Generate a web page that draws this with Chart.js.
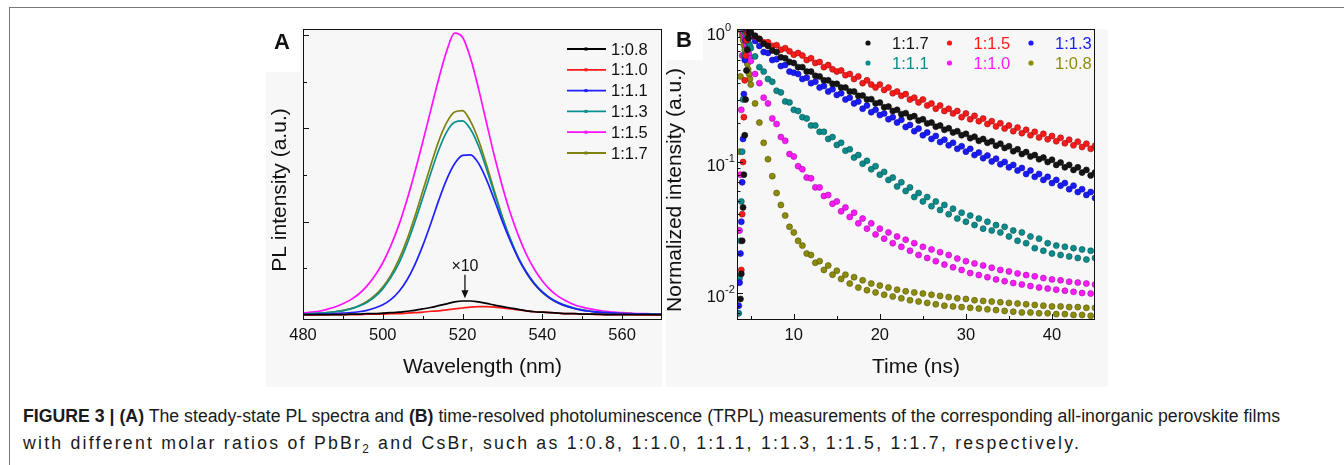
<!DOCTYPE html>
<html>
<head>
<meta charset="utf-8">
<script src="https://cdn.jsdelivr.net/npm/chart.js"></script>
<style>
    body { margin: 0; width: 1344px; height: 465px; overflow: hidden; position: relative; background: #fff; font-family: "Liberation Sans", Arial, sans-serif; }
    .rule { position: absolute; background: #777; }
    .bg { position: absolute; background: #f7f7f7; }
    canvas { position: absolute; top: 0; }
    #caption { position: absolute; left: 23px; top: 403px; font-size: 18px; line-height: 27px; color: #1a1a1a; white-space: nowrap; transform-origin: 0 0; }
    #caption span { display: inline-block; }
    #caption sub { font-size: 12px; vertical-align: 0; position: relative; top: 4px; }
</style>
</head>
<body>
<div class="rule" style="left:9px;top:7px;right:0;height:1px"></div>
<div class="rule" style="left:9px;top:7px;width:1px;bottom:0"></div>

<div class="bg" style="left:300px;top:29px;width:362px;height:358px"></div>
<div class="bg" style="left:266px;top:72px;width:34px;height:315px"></div>
<div class="bg" style="left:703px;top:29px;width:405px;height:358px"></div>
<div class="bg" style="left:666px;top:60px;width:37px;height:327px"></div>

<canvas id="plA" width="402" height="392" style="left:262px"></canvas>
<canvas id="trB" width="444" height="392" style="left:664px"></canvas>

<div id="caption">
    <span id="cap1"><b>FIGURE 3 | (A)</b> The steady-state PL spectra and <b>(B)</b> time-resolved photoluminescence (TRPL) measurements of the corresponding all-inorganic perovskite films</span><br>
    <span id="cap2">with different molar ratios of PbBr<sub>2</sub> and CsBr, such as 1:0.8, 1:1.0, 1:1.1, 1:1.3, 1:1.5, 1:1.7, respectively.</span>
</div>

<script>
    // ---- Panel A: steady-state PL spectra ----
    const wavelength = [480,482,484,486,488,490,492,494,496,498,
                        500,502,504,506,508,510,512,514,516,518,
                        520,522,524,526,528,530,532,534,536,538,
                        540,542,544,546,548,550,552,554,556,558,
                        560,562,564,566,568,570];

    const pl_0_8 = [0.01,0.01,0.01,0.01,0.01,0.01,0.02,0.02,0.03,0.03,
                    0.04,0.05,0.06,0.08,0.10,0.13,0.16,0.20,0.24,0.28,
                    0.30,0.30,0.28,0.25,0.21,0.18,0.15,0.12,0.09,0.07,
                    0.06,0.05,0.04,0.03,0.03,0.02,0.02,0.02,0.01,0.01,
                    0.01,0.01,0.01,0.01,0.01,0.01];
    const pl_1_0 = [0.00,0.00,0.00,0.00,0.01,0.01,0.01,0.01,0.02,0.02,
                    0.02,0.03,0.03,0.04,0.05,0.06,0.08,0.09,0.11,0.13,
                    0.15,0.17,0.18,0.18,0.17,0.15,0.13,0.11,0.09,0.07,
                    0.06,0.05,0.04,0.03,0.03,0.02,0.02,0.01,0.01,0.01,
                    0.01,0.01,0.00,0.00,0.00,0.00];
    const pl_1_1 = [0.01,0.01,0.02,0.02,0.03,0.04,0.05,0.07,0.10,0.15,
                    0.22,0.33,0.50,0.74,1.07,1.48,1.95,2.45,2.90,3.24,
                    3.42,3.43,3.25,2.90,2.46,2.00,1.58,1.21,0.91,0.67,
                    0.49,0.36,0.26,0.19,0.14,0.10,0.08,0.06,0.05,0.04,
                    0.03,0.02,0.02,0.02,0.01,0.01];
    const pl_1_3 = [0.02,0.03,0.04,0.05,0.07,0.09,0.13,0.19,0.27,0.39,
                    0.56,0.80,1.10,1.50,1.98,2.50,3.03,3.53,3.92,4.13,
                    4.16,3.98,3.62,3.13,2.60,2.08,1.62,1.23,0.92,0.68,
                    0.50,0.36,0.27,0.20,0.15,0.11,0.08,0.06,0.05,0.04,
                    0.03,0.03,0.02,0.02,0.02,0.01];
    const pl_1_5 = [0.04,0.06,0.08,0.12,0.17,0.24,0.33,0.45,0.62,0.84,
                    1.12,1.48,1.92,2.45,3.05,3.70,4.38,5.05,5.65,6.04,
                    5.95,5.50,4.85,4.12,3.40,2.75,2.18,1.70,1.30,0.98,
                    0.73,0.54,0.40,0.30,0.22,0.17,0.13,0.10,0.08,0.06,
                    0.05,0.04,0.03,0.03,0.02,0.02];
    const pl_1_7 = [0.02,0.03,0.04,0.05,0.07,0.10,0.14,0.20,0.29,0.42,
                    0.60,0.85,1.18,1.60,2.10,2.65,3.20,3.72,4.12,4.35,
                    4.38,4.15,3.75,3.22,2.65,2.10,1.62,1.22,0.90,0.66,
                    0.48,0.35,0.26,0.19,0.14,0.11,0.08,0.06,0.05,0.04,
                    0.03,0.03,0.02,0.02,0.02,0.01];

    const plLabels = ['1:0.8', '1:1.0', '1:1.1', '1:1.3', '1:1.5', '1:1.7'];
    const plColors = ['#000000', '#ff1a1a', '#1f1fff', '#089090', '#ff10ff', '#808010'];
    const plSeries = [pl_0_8, pl_1_0, pl_1_1, pl_1_3, pl_1_5, pl_1_7];
    const wlTicks = [480, 500, 520, 540, 560];

    // ---- Panel B: TRPL decays ----
    const time = [3.5,3.6,3.7,3.8,3.9,4.0,4.1,4.2,4.3,4.4,4.5,4.6,4.7,4.8,4.9,5.0,
                  5.5,6.0,6.5,7.0,7.5,8.0,8.5,9.0,9.5,10.0,
                  10.5,11.0,11.5,12.0,12.5,13.0,13.5,14.0,14.5,15.0,
                  15.5,16.0,16.5,17.0,17.5,18.0,18.5,19.0,19.5,20.0,
                  20.5,21.0,21.5,22.0,22.5,23.0,23.5,24.0,24.5,25.0,
                  25.5,26.0,26.5,27.0,27.5,28.0,28.5,29.0,29.5,30.0,
                  30.5,31.0,31.5,32.0,32.5,33.0,33.5,34.0,34.5,35.0,
                  35.5,36.0,36.5,37.0,37.5,38.0,38.5,39.0,39.5,40.0,
                  40.5,41.0,41.5,42.0,42.5,43.0,43.5,44.0,44.5,45.0];

    const tr_1_7 = [null,null,null,0.009,0.014,0.025,0.045,0.08,0.16,0.3,0.5,0.72,0.88,0.97,1.0,0.98,
                    .92,.87,.80,.77,.71,.69,.63,.62,.58,.57,
                    .53,.53,.49,.49,.455,.45,.42,.42,.395,.395,
                    .37,.37,.345,.345,.32,.322,.30,.302,.28,.284,
                    .262,.265,.245,.25,.232,.236,.22,.224,.207,.212,
                    .197,.2,.186,.19,.176,.181,.168,.172,.16,.164,
                    .152,.156,.145,.15,.14,.144,.133,.138,.128,.132,
                    .121,.125,.115,.119,.11,.113,.105,.108,.10,.104,
                    .095,.099,.091,.095,.087,.091,.083,.087,.079,.083];
    const tr_1_5 = [null,null,null,null,0.015,0.04,0.1,0.22,0.42,0.65,0.85,0.96,1.0,0.98,0.96,0.94,
                    .91,.87,.82,.82,.77,.78,.72,.74,.70,.66,
                    .68,.65,.60,.62,.57,.58,.53,.55,.51,.49,
                    .50,.46,.47,.43,.45,.40,.42,.39,.37,.39,
                    .355,.37,.335,.345,.32,.33,.30,.31,.285,.30,
                    .27,.28,.255,.27,.245,.255,.235,.245,.22,.235,
                    .212,.225,.205,.215,.195,.205,.187,.198,.18,.19,
                    .172,.183,.166,.176,.16,.17,.154,.164,.149,.158,
                    .144,.153,.139,.148,.134,.143,.13,.138,.126,.133];
    const tr_1_3 = [null,0.008,0.012,0.02,0.035,0.07,0.15,0.33,0.6,0.85,1.0,0.98,0.96,0.95,0.93,0.91,
                    .84,.77,.69,.68,.60,.61,.54,.55,.49,.48,
                    .47,.43,.44,.40,.41,.37,.38,.345,.36,.325,
                    .335,.30,.31,.28,.29,.255,.27,.24,.25,.228,
                    .235,.212,.22,.2,.21,.185,.192,.172,.18,.16,
                    .168,.15,.158,.142,.148,.134,.14,.126,.132,.12,
                    .126,.113,.118,.107,.112,.101,.106,.096,.1,.091,
                    .095,.086,.09,.081,.086,.077,.081,.073,.077,.069,
                    .073,.066,.069,.062,.066,.059,.062,.056,.059,.053];
    const tr_1_1 = [null,0.007,0.013,0.025,0.05,0.12,0.3,0.65,1.0,0.95,0.9,0.86,0.82,0.79,0.77,0.74,
                    .64,.53,.49,.43,.41,.35,.34,.29,.285,.25,
                    .245,.22,.215,.19,.19,.17,.17,.15,.155,.135,
                    .14,.122,.125,.108,.113,.097,.102,.088,.093,.08,
                    .084,.073,.076,.065,.07,.06,.064,.054,.058,.05,
                    .054,.046,.05,.043,.047,.04,.044,.037,.041,.035,
                    .039,.033,.037,.031,.035,.03,.033,.029,.032,.027,
                    .03,.025,.029,.024,.027,.022,.026,.021,.024,.02,
                    .023,.0195,.0225,.019,.022,.0185,.0215,.018,.021,.0185];
    const tr_1_0 = [0.007,0.012,0.03,0.08,0.25,0.65,1.0,0.94,0.88,0.83,0.78,0.74,0.69,0.66,0.62,0.59,
                    .47,.40,.31,.28,.215,.195,.155,.145,.115,.11,
                    .093,.088,.076,.075,.064,.064,.055,.056,.048,.05,
                    .042,.045,.038,.041,.034,.037,.031,.034,.028,.031,
                    .026,.029,.024,.027,.0225,.0255,.021,.024,.0195,.0225,
                    .0185,.0215,.0175,.0205,.0165,.0195,.0157,.0183,.015,.0175,
                    .0142,.0168,.0137,.0162,.0132,.0156,.0127,.015,.0123,.0146,
                    .0119,.0141,.0116,.0137,.0113,.0134,.011,.013,.0108,.0127,
                    .0106,.0125,.0104,.0122,.0102,.012,.01,.0118,.0099,.0116];
    const tr_0_8 = [0.008,0.03,0.12,0.45,1.0,0.92,0.85,0.78,0.72,0.67,0.62,0.56,0.51,0.47,0.43,0.39,
                    .28,.20,.14,.105,.078,.058,.047,.039,.032,.029,
                    .025,.023,.02,.0195,.017,.0175,.015,.0162,.0138,.0148,
                    .0128,.0138,.0118,.0132,.011,.0125,.0105,.0118,.0101,.0114,
                    .0097,.011,.0094,.0106,.0091,.0103,.0088,.0101,.0086,.0099,
                    .0084,.0097,.0082,.0095,.008,.0093,.0079,.0091,.0078,.009,
                    .0077,.0088,.0076,.0087,.0075,.0086,.0074,.0085,.0073,.0084,
                    .0072,.0083,.0071,.0082,.0071,.0081,.007,.008,.007,.0079,
                    .0069,.0079,.0069,.0078,.0068,.0078,.0068,.0077,.0067,.0077];

    const trLabels = ['1:1.7', '1:1.5', '1:1.3', '1:1.1', '1:1.0', '1:0.8'];
    const trColors = ['#151515', '#ff1a1a', '#1a1aff', '#0a8c8c', '#ff1aff', '#8c8c0a'];
    const trSeries = [tr_1_7, tr_1_5, tr_1_3, tr_1_1, tr_1_0, tr_0_8];
    const timeTicks = [10, 20, 30, 40];

    const FONT = '"Liberation Sans", Arial, sans-serif';

    function line(ctx, x1, y1, x2, y2) {
        ctx.beginPath();
        ctx.moveTo(x1, y1);
        ctx.lineTo(x2, y2);
        ctx.stroke();
    }

    function darker(hex) {
        const n = parseInt(hex.slice(1), 16);
        const r = (n >> 16) * 0.6, g = ((n >> 8) & 255) * 0.6, b = (n & 255) * 0.6;
        return `rgb(${r | 0},${g | 0},${b | 0})`;
    }

    // axes, labels, legend and annotation for panel A
    const decorA = {
        id: 'decorA',
        afterDraw(chart) {
            const { ctx, chartArea: a, scales: { x, y } } = chart;
            ctx.save();
            ctx.strokeStyle = '#111';
            ctx.fillStyle = '#111';
            ctx.lineWidth = 1;
            ctx.strokeRect(a.left + 0.5, a.top + 0.5, a.right - a.left - 1, a.bottom - a.top - 1);

            // x ticks, inward
            for (let v = 490; v < 570; v += 10) {
                const px = Math.round(x.getPixelForValue(v)) + 0.5;
                line(ctx, px, a.bottom, px, a.bottom - (v % 20 === 0 ? 6 : 4));
            }
            ctx.font = `16.5px ${FONT}`;
            ctx.textAlign = 'center';
            ctx.textBaseline = 'middle';
            wlTicks.forEach(v => ctx.fillText(String(v), x.getPixelForValue(v), 335));

            // y ticks, no labels
            for (let v = 1; v <= 6; v++) {
                const py = Math.round(y.getPixelForValue(v)) + 0.5;
                line(ctx, a.left, py, a.left + (v % 2 === 0 ? 6 : 4), py);
            }

            // axis titles
            ctx.font = `21px ${FONT}`;
            ctx.fillText('Wavelength (nm)', (a.left + a.right) / 2, 367);
            ctx.save();
            ctx.translate(18, 190);
            ctx.rotate(-Math.PI / 2);
            ctx.fillText('PL intensity (a.u.)', 0, 0);
            ctx.restore();

            // panel letter
            ctx.font = `bold 22px ${FONT}`;
            ctx.fillText('A', 20, 43);

            // legend
            ctx.font = `16.5px ${FONT}`;
            ctx.textAlign = 'left';
            plLabels.forEach((lab, i) => {
                const ly = 49 + i * 20.8;
                ctx.strokeStyle = plColors[i];
                ctx.fillStyle = plColors[i];
                ctx.lineWidth = 1.8;
                line(ctx, 305, ly, 344, ly);
                ctx.fillRect(322.5, ly - 1.5, 3, 3);
                ctx.fillStyle = '#111';
                ctx.fillText(lab, 349, ly + 1);
            });

            // x10 annotation on the weak spectra
            const ax = x.getPixelForValue(520.6);
            ctx.fillStyle = '#111';
            ctx.strokeStyle = '#111';
            ctx.textAlign = 'center';
            ctx.font = `16px ${FONT}`;
            ctx.fillText('\u00d710', ax, y.getPixelForValue(1.03));
            const yTop = y.getPixelForValue(0.86), yTip = y.getPixelForValue(0.36);
            ctx.lineWidth = 1.3;
            line(ctx, ax, yTop, ax, yTip - 6);
            ctx.beginPath();
            ctx.moveTo(ax - 3.5, yTip - 8);
            ctx.lineTo(ax + 3.5, yTip - 8);
            ctx.lineTo(ax, yTip);
            ctx.closePath();
            ctx.fill();
            ctx.restore();
        }
    };

    // axes, labels and legend for panel B
    const decorB = {
        id: 'decorB',
        afterDraw(chart) {
            const { ctx, chartArea: a, scales: { x, y } } = chart;
            ctx.save();
            ctx.strokeStyle = '#111';
            ctx.fillStyle = '#111';
            ctx.lineWidth = 1;
            ctx.strokeRect(a.left + 0.5, a.top + 0.5, a.right - a.left - 1, a.bottom - a.top - 1);

            for (let v = 5; v < 45; v += 5) {
                const px = Math.round(x.getPixelForValue(v)) + 0.5;
                line(ctx, px, a.bottom, px, a.bottom - (v % 10 === 0 ? 6 : 4));
            }
            ctx.font = `16.5px ${FONT}`;
            ctx.textAlign = 'center';
            ctx.textBaseline = 'middle';
            timeTicks.forEach(v => ctx.fillText(String(v), x.getPixelForValue(v), 335));

            // log ticks on the left axis
            for (let d = -3; d <= 0; d++) {
                for (let k = 1; k <= 9; k++) {
                    const v = k * Math.pow(10, d);
                    if (v < y.min || v > y.max) continue;
                    const py = Math.round(y.getPixelForValue(v)) + 0.5;
                    line(ctx, a.left, py, a.left + (k === 1 ? 6 : 3.5), py);
                }
            }
            [[1, '0'], [0.1, '-1'], [0.01, '-2']].forEach(([v, e]) => {
                const py = y.getPixelForValue(v);
                ctx.textAlign = 'right';
                ctx.font = `16.5px ${FONT}`;
                ctx.fillText('10', a.left - 12, py + 4);
                ctx.textAlign = 'left';
                ctx.font = `11px ${FONT}`;
                ctx.fillText(e, a.left - 12, py - 3);
            });

            ctx.textAlign = 'center';
            ctx.font = `21px ${FONT}`;
            ctx.fillText('Time (ns)', (a.left + a.right) / 2, 367);
            ctx.save();
            ctx.translate(11, 190);
            ctx.rotate(-Math.PI / 2);
            ctx.fillText('Normalized intensity (a.u.)', 0, 0);
            ctx.restore();

            ctx.font = `bold 22px ${FONT}`;
            ctx.fillText('B', 20, 41);

            // legend: two rows of three coloured entries
            ctx.font = `16.5px ${FONT}`;
            ctx.textAlign = 'left';
            trLabels.forEach((lab, i) => {
                const col = i % 3, row = Math.floor(i / 3);
                const dx = 204 + col * 81.5, dy = 43 + row * 20;
                ctx.fillStyle = trColors[i];
                ctx.beginPath();
                ctx.arc(dx, dy, 2.6, 0, Math.PI * 2);
                ctx.fill();
                ctx.fillText(lab, dx + 24, dy + 1);
            });
            ctx.restore();
        }
    };

    new Chart(document.getElementById('plA'), {
        type: 'line',
        data: {
            datasets: plSeries.map((vals, i) => ({
                label: plLabels[i],
                data: wavelength.map((w, j) => ({ x: w, y: vals[j] })),
                borderColor: plColors[i],
                borderWidth: 1.7,
                pointRadius: 0,
                cubicInterpolationMode: 'monotone',
                fill: false
            }))
        },
        options: {
            responsive: false,
            animation: false,
            devicePixelRatio: 1,
            layout: { padding: { left: 41, top: 29, right: 2, bottom: 72 } },
            plugins: { legend: { display: false }, tooltip: { enabled: false } },
            scales: {
                x: { type: 'linear', min: 480, max: 570, display: false },
                y: { type: 'linear', min: -0.107, max: 6.128, display: false }
            }
        },
        plugins: [decorA]
    });

    new Chart(document.getElementById('trB'), {
        type: 'scatter',
        data: {
            datasets: trSeries.map((vals, i) => ({
                label: trLabels[i],
                data: time.map((t, j) => ({ x: t, y: vals[j] })).filter(p => p.y !== null),
                backgroundColor: trColors[i],
                borderColor: darker(trColors[i]),
                borderWidth: 0.6,
                pointRadius: 3
            }))
        },
        options: {
            responsive: false,
            animation: false,
            devicePixelRatio: 1,
            layout: { padding: { left: 73, top: 29, right: 13, bottom: 72 } },
            plugins: { legend: { display: false }, tooltip: { enabled: false } },
            scales: {
                x: { type: 'linear', min: 3.4, max: 45, display: false },
                y: { type: 'logarithmic', min: 0.00622, max: 1.036, display: false }
            }
        },
        plugins: [decorB]
    });

    // caption: first line spans to x≈1280, second to x≈1068 in the figure
    const cap = document.getElementById('caption');
    const l1 = document.getElementById('cap1'), l2 = document.getElementById('cap2');
    const s = 1257 / l1.getBoundingClientRect().width;
    cap.style.transform = `scaleX(${s})`;
    const n2 = l2.textContent.length;
    const extra = (1045 / s - l2.getBoundingClientRect().width) / n2;
    l2.style.letterSpacing = `${Math.max(0, extra)}px`;
</script>
</body>
</html>
